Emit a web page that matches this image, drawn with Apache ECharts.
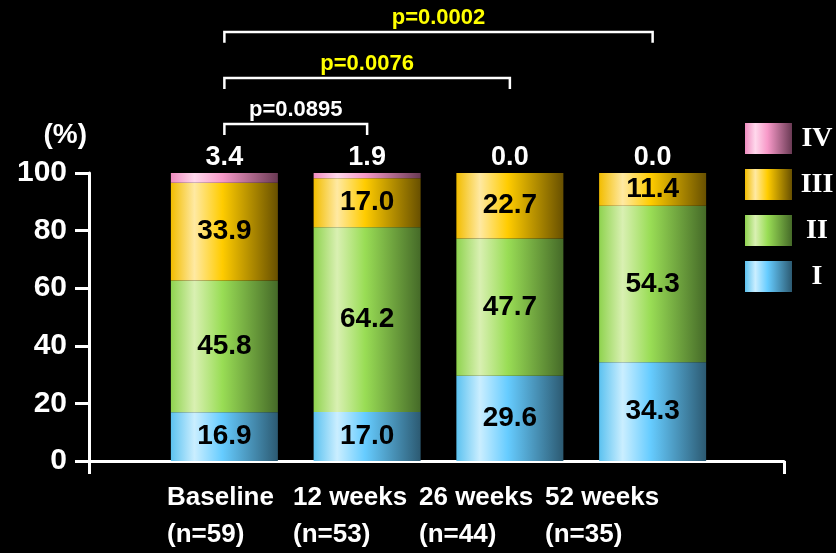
<!DOCTYPE html>
<html>
<head>
<meta charset="utf-8">
<script src="https://cdn.jsdelivr.net/npm/echarts@6/dist/echarts.min.js"></script>
<style>
  html, body { margin: 0; padding: 0; background: #000; }
  #chart { width: 836px; height: 553px; }
</style>
</head>
<body>
<div id="chart"></div>
<script>
// Severity grade distribution (%) at each visit
const categories = ['Baseline', '12 weeks', '26 weeks', '52 weeks'];
const sampleSizes = [59, 53, 44, 35];
const gradeI   = [16.9, 17.0, 29.6, 34.3];
const gradeII  = [45.8, 64.2, 47.7, 54.3];
const gradeIII = [33.9, 17.0, 22.7, 11.4];
const gradeIV  = [3.4, 1.9, 0.0, 0.0];
const yTicks = [0, 20, 40, 60, 80, 100];

// Comparisons against baseline: target visit index, bracket height (%), p value
const compareTo = [1, 2, 3];
const bracketLevel = [117, 133, 149];
const pValues = ['0.0895', '0.0076', '0.0002'];

const SANS = '"Liberation Sans", Arial, sans-serif';
const SERIF = '"Liberation Serif", "DejaVu Serif", serif';

function shade(edge, light, base, dark) {
  return {
    type: 'linear', x: 0, y: 0, x2: 1, y2: 0,
    colorStops: [
      { offset: 0, color: edge },
      { offset: 0.22, color: light },
      { offset: 0.48, color: base },
      { offset: 1, color: dark }
    ]
  };
}
const fills = {
  'I':   shade('#5cc2f0', '#caeeff', '#66ccff', '#2c5a72'),
  'II':  shade('#8fd34f', '#d9f0b2', '#99dd55', '#456a28'),
  'III': shade('#f2bd00', '#ffe9a2', '#ffcc00', '#685000'),
  'IV':  shade('#f08cc0', '#ffd8ec', '#f799c8', '#6a3a54')
};

const insideLabel = {
  show: true,
  position: 'inside',
  color: '#000',
  fontFamily: SANS,
  fontWeight: 'bold',
  fontSize: 28,
  formatter: p => p.value.toFixed(1)
};

function barSeries(name, values, label) {
  return {
    name: name,
    type: 'bar',
    stack: 'grade',
    xAxisIndex: 1,
    yAxisIndex: 1,
    barWidth: 107,
    data: values,
    itemStyle: { color: fills[name] },
    label: label,
    emphasis: { disabled: true }
  };
}

const chart = echarts.init(document.getElementById('chart'), null, { renderer: 'canvas' });

chart.setOption({
  backgroundColor: '#000',
  animation: false,
  grid: [
    { left: 89, right: 52, top: 173, bottom: 92 },   // axes frame
    { left: 153, right: 112, top: 173, bottom: 92 }, // bars
    { left: 104, right: 228, top: 173, bottom: 92 }  // visit labels
  ],
  legend: {
    orient: 'vertical',
    left: 740,
    top: 118,
    icon: 'rect',
    itemWidth: 47,
    itemHeight: 31,
    itemGap: 15,
    data: ['IV', 'III', 'II', 'I'],
    selectedMode: false,
    formatter: n => '{r|' + n + '}',
    textStyle: {
      rich: {
        r: {
          width: 40, align: 'center', lineHeight: 31,
          color: '#fff', fontFamily: SERIF, fontWeight: 'bold', fontSize: 28
        }
      }
    }
  },
  xAxis: [
    {
      gridIndex: 0, type: 'value', min: 0, max: 1, interval: 1,
      axisLine: { show: true, lineStyle: { color: '#fff', width: 3 } },
      axisTick: { show: true, length: 13, lineStyle: { color: '#fff', width: 3 } },
      axisLabel: { show: false },
      splitLine: { show: false }
    },
    {
      gridIndex: 1, type: 'category', data: categories,
      axisLine: { show: false }, axisTick: { show: false },
      axisLabel: { show: false }
    },
    {
      gridIndex: 2, type: 'category',
      data: categories.map((c, i) => c + '\n(n=' + sampleSizes[i] + ')'),
      axisLine: { show: false }, axisTick: { show: false },
      axisLabel: {
        show: true, interval: 0, hideOverlap: false,
        align: 'left', margin: 19, lineHeight: 37,
        color: '#fff', fontFamily: SANS, fontWeight: 'bold', fontSize: 26
      }
    }
  ],
  yAxis: [
    {
      gridIndex: 0, type: 'value', min: yTicks[0], max: yTicks[yTicks.length - 1], interval: 20,
      name: '(%)',
      nameLocation: 'end',
      nameGap: 24,
      nameTextStyle: { color: '#fff', fontFamily: SANS, fontWeight: 'bold', fontSize: 28, align: 'right', padding: [0, 2, 0, 0] },
      axisLine: { show: true, lineStyle: { color: '#fff', width: 3 } },
      axisTick: { show: true, length: 14, lineStyle: { color: '#fff', width: 3 } },
      axisLabel: { color: '#fff', margin: 22, fontFamily: SANS, fontWeight: 'bold', fontSize: 30 },
      splitLine: { show: false }
    },
    { gridIndex: 1, type: 'value', min: 0, max: 100, show: false },
    { gridIndex: 2, type: 'value', min: 0, max: 100, show: false }
  ],
  series: [
    barSeries('I', gradeI, insideLabel),
    barSeries('II', gradeII, insideLabel),
    barSeries('III', gradeIII, insideLabel),
    barSeries('IV', gradeIV, {
      show: true, position: 'top', distance: 2,
      color: '#fff', fontFamily: SANS, fontWeight: 'bold', fontSize: 27,
      formatter: p => p.value.toFixed(1)
    }),
    {
      type: 'custom',
      xAxisIndex: 1,
      yAxisIndex: 1,
      clip: false,
      silent: true,
      data: compareTo.map((t, i) => [t, bracketLevel[i]]),
      renderItem: function (params, api) {
        const i = params.dataIndex;
        const to = api.value(0);
        const level = api.value(1);
        const drop = 3.8;
        const a = api.coord([0, level - drop]);
        const b = api.coord([0, level]);
        const c = api.coord([to, level]);
        const d = api.coord([to, level - drop]);
        const significant = parseFloat(pValues[i]) < 0.05;
        return {
          type: 'group',
          children: [
            {
              type: 'polyline',
              shape: { points: [a, b, c, d] },
              style: { stroke: '#fff', lineWidth: 2.5, fill: null }
            },
            {
              type: 'text',
              x: (b[0] + c[0]) / 2,
              y: b[1] - 14,
              style: {
                text: 'p=' + pValues[i],
                fill: significant ? '#ffff00' : '#fff',
                font: 'bold 22px ' + SANS,
                align: 'center',
                verticalAlign: 'middle'
              }
            }
          ]
        };
      }
    }
  ]
});
</script>
</body>
</html>
